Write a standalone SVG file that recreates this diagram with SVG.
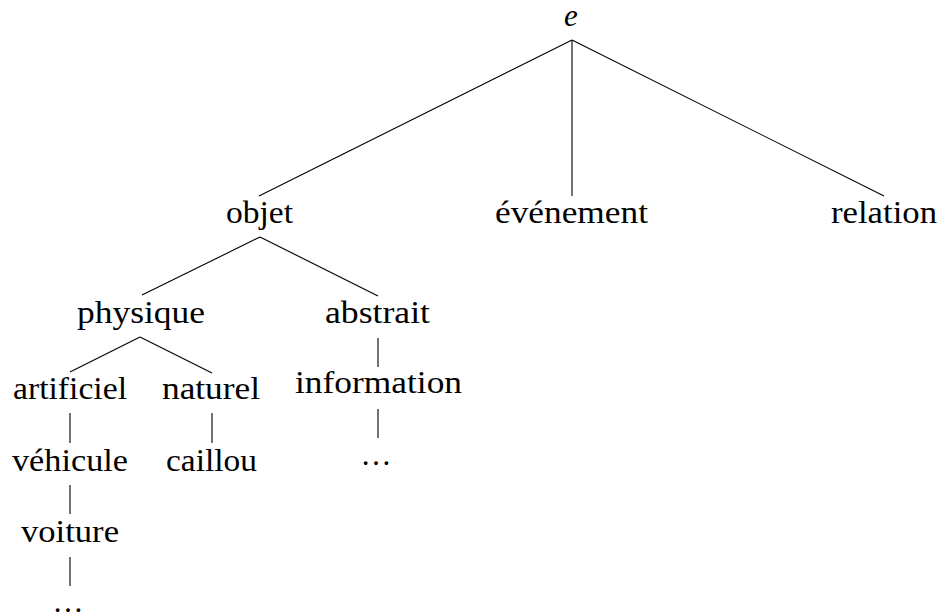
<svg xmlns="http://www.w3.org/2000/svg" width="943" height="616" viewBox="0 0 943 616">
<style>
text { font-family: "Liberation Serif", "DejaVu Serif", serif; font-size: 31px; fill: #000; text-anchor: middle; }
.it { font-style: italic; }
.edge { stroke: #000; stroke-width: 1.1; fill: none; stroke-linecap: butt; }
</style>
<rect width="943" height="616" fill="#fff"/>
<g id="connectors">
<line class="edge" x1="572" y1="40" x2="259" y2="196"/>
<line class="edge" x1="572" y1="40" x2="572" y2="196"/>
<line class="edge" x1="572" y1="40" x2="884" y2="196"/>
<line class="edge" x1="260" y1="237" x2="142" y2="295"/>
<line class="edge" x1="260" y1="237" x2="378" y2="296"/>
<line class="edge" x1="140" y1="337" x2="70" y2="372"/>
<line class="edge" x1="140" y1="337" x2="212" y2="373"/>
<line class="edge" x1="378" y1="338" x2="378" y2="367"/>
<line class="edge" x1="378" y1="409" x2="378" y2="438"/>
<line class="edge" x1="70" y1="413" x2="70" y2="443"/>
<line class="edge" x1="212" y1="413" x2="212" y2="443"/>
<line class="edge" x1="70" y1="485" x2="70" y2="514"/>
<line class="edge" x1="70" y1="557" x2="70" y2="586"/>
</g>
<g id="node-e"><text class="it" x="571" y="26">e</text></g>
<g id="node-objet"><text x="259.5" y="223" textLength="67" lengthAdjust="spacingAndGlyphs">objet</text></g>
<g id="node-evenement"><text x="571.5" y="223" textLength="153" lengthAdjust="spacingAndGlyphs">événement</text></g>
<g id="node-relation"><text x="884" y="223" textLength="106" lengthAdjust="spacingAndGlyphs">relation</text></g>
<g id="node-physique"><text x="141" y="323" textLength="128" lengthAdjust="spacingAndGlyphs">physique</text></g>
<g id="node-abstrait"><text x="377.5" y="323" textLength="105" lengthAdjust="spacingAndGlyphs">abstrait</text></g>
<g id="node-artificiel"><text x="70" y="399" textLength="114" lengthAdjust="spacingAndGlyphs">artificiel</text></g>
<g id="node-naturel"><text x="211" y="399" textLength="98" lengthAdjust="spacingAndGlyphs">naturel</text></g>
<g id="node-information"><text x="378.5" y="393" textLength="167" lengthAdjust="spacingAndGlyphs">information</text></g>
<g id="node-dots1"><text x="376" y="465">…</text></g>
<g id="node-vehicule"><text x="70" y="471" textLength="116" lengthAdjust="spacingAndGlyphs">véhicule</text></g>
<g id="node-caillou"><text x="211.5" y="471" textLength="91" lengthAdjust="spacingAndGlyphs">caillou</text></g>
<g id="node-voiture"><text x="70" y="542" textLength="98" lengthAdjust="spacingAndGlyphs">voiture</text></g>
<g id="node-dots2"><text x="68" y="612">…</text></g>
</svg>
